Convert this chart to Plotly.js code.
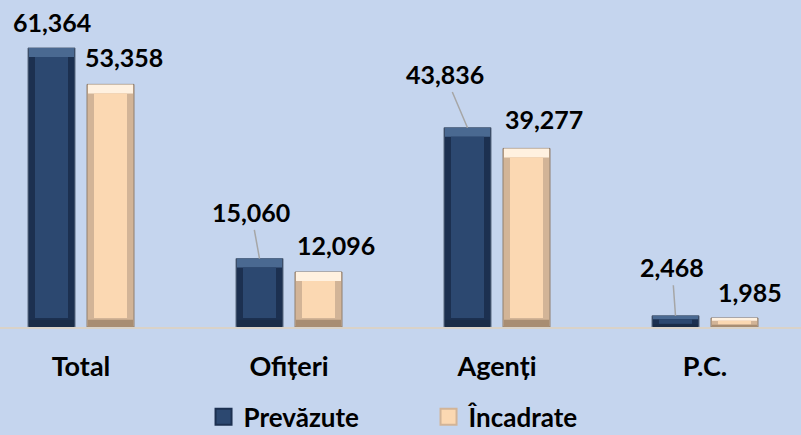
<!DOCTYPE html>
<html>
<head>
<meta charset="utf-8">
<script src="https://cdn.plot.ly/plotly-3.0.1.min.js"></script>
<style>html,body{margin:0;padding:0;background:#c5d5ee;}#chart{width:801px;height:435px;}</style>
</head>
<body>
<div id="chart"></div>
<script>
// ---- data ----
const categories = ["Total", "Ofițeri", "Agenți", "P.C."];
const seriesNames = ["Prevăzute", "Încadrate"];
const valPrevazute = [61364, 15060, 43836, 2468];
const valIncadrate = [53358, 12096, 39277, 1985];
const labelPrevazute = ["61,364", "15,060", "43,836", "2,468"];
const labelIncadrate = ["53,358", "12,096", "39,277", "1,985"];

// ---- styling / geometry ----
const FONT = {family: "Lato, 'Open Sans', sans-serif", size: 25, color: "#000000", weight: 700};
const FONT_CAT = {family: "Lato, 'Open Sans', sans-serif", size: 27, color: "#000000", weight: 700};
const FONT_LEG = {family: "Lato, 'Open Sans', sans-serif", size: 26, color: "#000000", weight: 700};
const PLOT_H = 327;
const Y_MAX = 71915;
const UNIT_PX = 208;              // px per category
const BAR_W = 47 / UNIT_PX;
const HALF_SEP = 29.5 / UNIT_PX;
const BEVEL_X = 7 / UNIT_PX;
const BEVEL_Y = 9 * Y_MAX / PLOT_H;

const xs = categories.map((c, i) => i);

function barLayers(vals, center, cols) {
  const off = center - BAR_W / 2;
  const bev = vals.map(v => Math.min(BEVEL_Y, v * 0.3));
  const inW = BAR_W - 2 / UNIT_PX, inOff = off + 1 / UNIT_PX;
  const outer = {
    type: "bar", x: xs, y: vals, width: BAR_W, offset: off,
    marker: {color: cols.side, line: {color: cols.line, width: 1}},
    showlegend: false, hoverinfo: "skip"
  };
  const cap = {
    type: "bar", x: xs, y: bev, base: vals.map((v, i) => v - bev[i]),
    width: inW, offset: inOff,
    marker: {color: cols.top, line: {width: 0}}, showlegend: false, hoverinfo: "skip"
  };
  const bottom = {
    type: "bar", x: xs, y: bev.map(b => b * 0.8), base: 0,
    width: inW, offset: inOff,
    marker: {color: cols.bottom, line: {width: 0}}, showlegend: false, hoverinfo: "skip"
  };
  const face = {
    type: "bar", x: xs, y: vals.map((v, i) => Math.max(v - 2 * bev[i], 0)), base: bev,
    width: BAR_W - 2 * BEVEL_X, offset: off + BEVEL_X,
    marker: {color: cols.face, line: {width: 0}}, showlegend: false, hoverinfo: "skip"
  };
  return [outer, bottom, cap, face];
}

const darkCols = {side: "#1c3050", line: "#5a6a80", top: "#4a6991", bottom: "#1a2c47", face: "#2c4870"};
const lightCols = {side: "#d2b497", line: "#8f7e6e", top: "#fff1e0", bottom: "#a88d72", face: "#fbd8b2"};

function legendTrace(name, cols) {
  return {
    type: "scatter", mode: "markers", x: [null], y: [null], name: name,
    marker: {symbol: "square", size: 16, color: cols.face, line: {color: cols.side, width: 2}},
    showlegend: true, hoverinfo: "skip"
  };
}

const traces = [
  ...barLayers(valPrevazute, -HALF_SEP, darkCols),
  ...barLayers(valIncadrate, HALF_SEP, lightCols),
  legendTrace(seriesNames[0], darkCols),
  legendTrace(seriesNames[1], lightCols)
];

// label placement (pixels relative to bar top)
const darkLbl = [
  {ax: 0, ay: -26, arrow: false},
  {ax: -8.5, ay: -47, arrow: true},
  {ax: -23, ay: -54, arrow: true},
  {ax: -3.5, ay: -49, arrow: true}
];
const lightLbl = [
  {ax: 13, ay: -27.5}, {ax: 17.5, ay: -27}, {ax: 17.5, ay: -29}, {ax: 15.5, ay: -26}
];

const annotations = [];
xs.forEach((x, i) => {
  const d = darkLbl[i];
  if (d.arrow) {
    annotations.push({
      x: x - HALF_SEP, y: valPrevazute[i], xref: "x", yref: "y",
      text: labelPrevazute[i], font: FONT, showarrow: true, ax: d.ax, ay: d.ay,
      arrowhead: 0, arrowwidth: 1.5, arrowcolor: "#a6a6a6", standoff: 0, startstandoff: 2,
      xanchor: "center", yanchor: "middle"
    });
  } else {
    annotations.push({
      x: x - HALF_SEP, y: valPrevazute[i], xref: "x", yref: "y",
      text: labelPrevazute[i], font: FONT, showarrow: false,
      xshift: d.ax, yshift: -d.ay, xanchor: "center", yanchor: "middle"
    });
  }
  const l = lightLbl[i];
  annotations.push({
    x: x + HALF_SEP, y: valIncadrate[i], xref: "x", yref: "y",
    text: labelIncadrate[i], font: FONT, showarrow: false,
    xshift: l.ax, yshift: -l.ay, xanchor: "center", yanchor: "middle"
  });
});

const layout = {
  width: 801, height: 435,
  margin: {l: 0, r: 0, t: 0, b: 108, pad: 0, autoexpand: false},
  paper_bgcolor: "#c5d5ee", plot_bgcolor: "#c5d5ee",
  barmode: "overlay",
  showlegend: true,
  xaxis: {
    type: "linear", range: [-81 / UNIT_PX, 720 / UNIT_PX],
    tickmode: "array", tickvals: xs, ticktext: categories,
    tickfont: FONT_CAT, showgrid: false, zeroline: false,
    showline: true, linecolor: "#d9d2c8", linewidth: 2,
    ticks: "", ticklabelstandoff: 15, fixedrange: true, automargin: false
  },
  yaxis: {range: [0, Y_MAX], visible: false, showgrid: false, zeroline: false, fixedrange: true},
  legend: {
    orientation: "h", x: 0.535, xanchor: "center", y: -0.275, yanchor: "middle",
    font: FONT_LEG, bgcolor: "rgba(0,0,0,0)", itemwidth: 30,
    entrywidth: 180, entrywidthmode: "pixels", traceorder: "normal"
  },
  annotations: annotations
};

Plotly.newPlot("chart", traces, layout, {staticPlot: true, displayModeBar: false});
</script>
</body>
</html>
